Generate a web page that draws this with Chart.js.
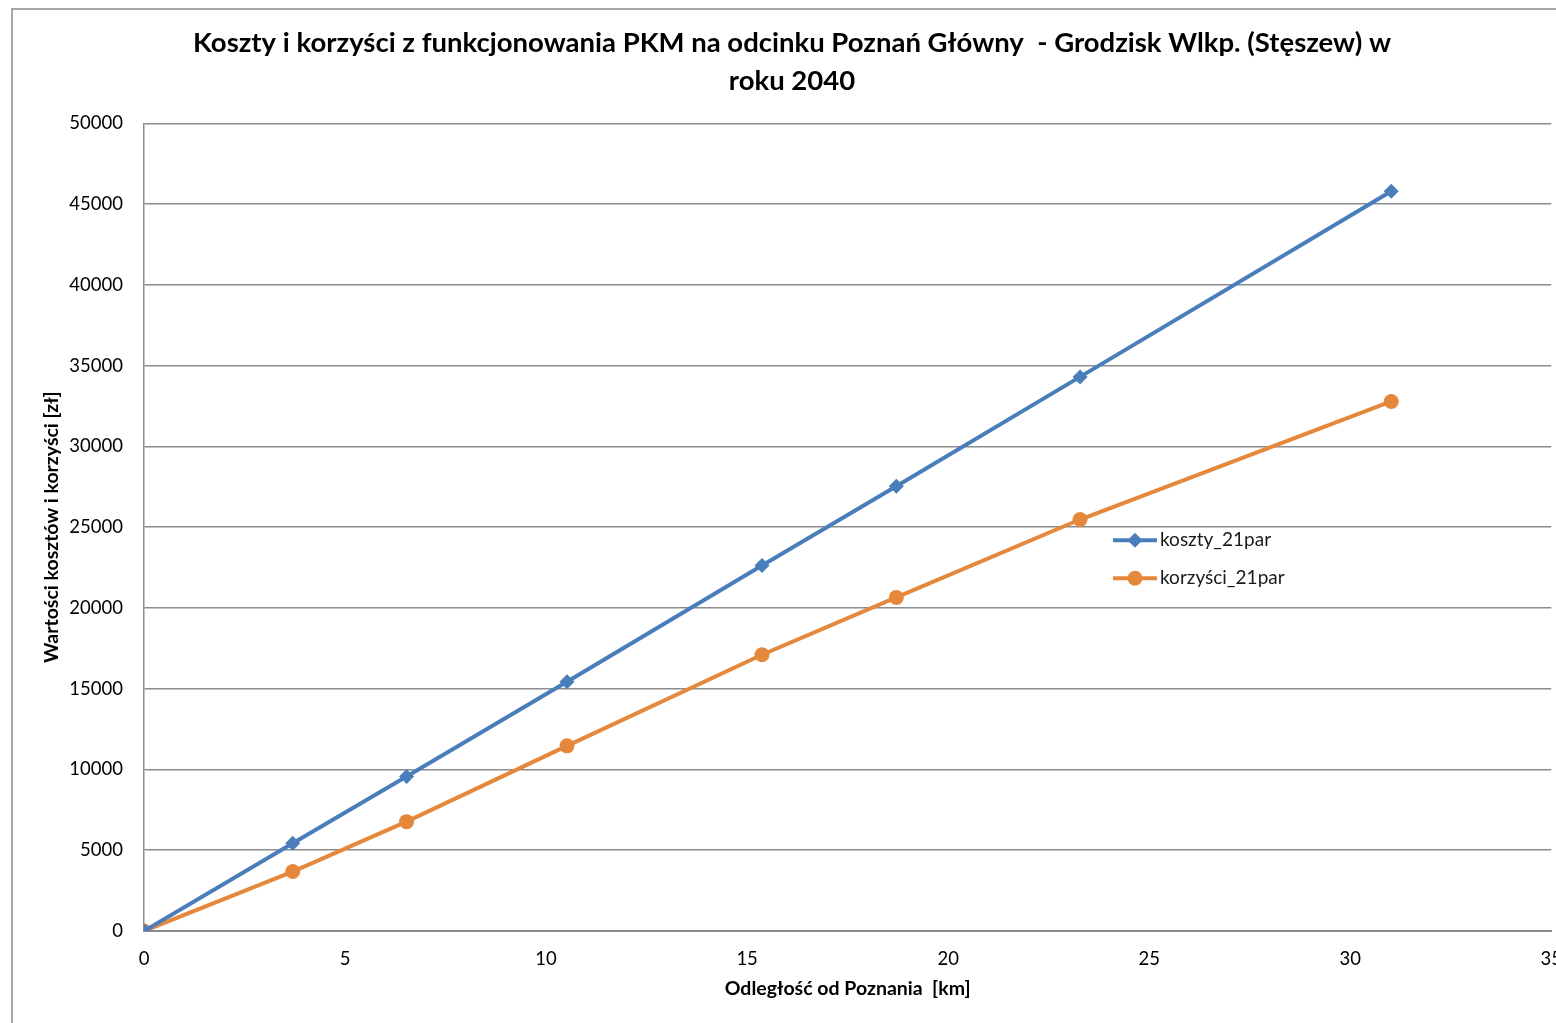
<!DOCTYPE html>
<html lang="pl">
<head>
    <meta charset="UTF-8">
    <title>Koszty i korzyści PKM</title>
    <script src="https://cdn.jsdelivr.net/npm/chart.js"></script>
    <style>
        html, body { margin: 0; padding: 0; background: #fff; overflow: hidden; }
        #frame {
            position: absolute; left: 11px; top: 8px;
            width: 1566px; height: 1040px;
            border: 2px solid #a6a6a6;
        }
        #myChart { display: block; }
    </style>
</head>
<body>
<div id="frame">
    <canvas id="myChart" width="1566" height="1040"></canvas>
</div>
<script>
    // odległość od Poznania [km]
    var distanceKm = [0, 3.7, 6.53, 10.52, 15.37, 18.71, 23.28, 31.02];
    var koszty = [0, 5430, 9560, 15430, 22630, 27530, 34300, 45790];
    var korzysci = [0, 3680, 6770, 11460, 17100, 20650, 25470, 32780];
    var seriesLabels = ['koszty_21par', 'korzyści_21par'];
    var titleLines = ['Koszty i korzyści z funkcjonowania PKM na odcinku Poznań Główny  - Grodzisk Wlkp. (Stęszew) w', 'roku 2040'];

    var blue = '#4a7ebb';
    var orange = '#e5883c';
    var font = 'Lato';

    function points(xs, ys) {
        return xs.map(function (x, i) { return { x: x, y: ys[i] }; });
    }

    // legenda wewnątrz obszaru wykresu
    var innerLegend = {
        id: 'innerLegend',
        afterDatasetsDraw: function (chart, args, opts) {
            var ctx = chart.ctx;
            var area = chart.chartArea;
            ctx.save();
            chart.data.datasets.forEach(function (ds, i) {
                var x0 = area.left + opts.left;
                var y = area.top + opts.top + i * opts.gap;
                var cx = x0 + opts.lineLen / 2;
                var r = ds.pointRadius;
                ctx.strokeStyle = ds.borderColor;
                ctx.lineWidth = ds.borderWidth;
                ctx.beginPath();
                ctx.moveTo(x0, y);
                ctx.lineTo(x0 + opts.lineLen, y);
                ctx.stroke();
                ctx.fillStyle = ds.backgroundColor;
                ctx.beginPath();
                if (ds.pointStyle === 'circle') {
                    ctx.arc(cx, y, r, 0, Math.PI * 2);
                } else {
                    ctx.moveTo(cx, y - r); ctx.lineTo(cx + r, y); ctx.lineTo(cx, y + r); ctx.lineTo(cx - r, y);
                    ctx.closePath();
                }
                ctx.fill();
                ctx.fillStyle = '#1a1a1a';
                ctx.font = '19px ' + font;
                ctx.textBaseline = 'middle';
                ctx.fillText(ds.label, x0 + opts.lineLen + 3, y);
            });
            ctx.restore();
        }
    };

    var ctx = document.getElementById('myChart');
    new Chart(ctx, {
        type: 'line',
        data: {
            datasets: [{
                label: seriesLabels[0],
                data: points(distanceKm, koszty),
                borderColor: blue,
                backgroundColor: blue,
                borderWidth: 4,
                pointStyle: 'rectRot',
                pointRadius: 7.5,
                pointBorderWidth: 0
            }, {
                label: seriesLabels[1],
                data: points(distanceKm, korzysci),
                borderColor: orange,
                backgroundColor: orange,
                borderWidth: 4,
                pointStyle: 'circle',
                pointRadius: 7.5,
                pointBorderWidth: 0
            }]
        },
        options: {
            responsive: false,
            animation: false,
            layout: { padding: { left: 14, right: 22, top: 0, bottom: 50 } },
            plugins: {
                legend: { display: false },
                tooltip: { enabled: false },
                title: {
                    display: true,
                    text: titleLines,
                    color: '#000',
                    font: { family: font, size: 27.5, weight: 'bold', lineHeight: 1.35 },
                    padding: { top: 15, bottom: 24 }
                },
                innerLegend: { left: 969, top: 417, gap: 38, lineLen: 44 }
            },
            scales: {
                x: {
                    type: 'linear',
                    min: 0,
                    max: 35,
                    afterFit: function (s) { s.height = 69; },
                    ticks: { stepSize: 5, padding: 17, color: '#000', font: { family: font, size: 18.5 } },
                    grid: { display: false, drawTicks: false },
                    border: { color: '#8c8c8c', width: 2 },
                    title: {
                        display: true,
                        text: 'Odległość od Poznania  [km]',
                        color: '#000',
                        padding: 0,
                        font: { family: font, size: 19.5, weight: 'bold', lineHeight: 1.2 }
                    }
                },
                y: {
                    min: 0,
                    max: 50000,
                    afterFit: function (s) { s.width = 117; },
                    ticks: {
                        stepSize: 5000, padding: 21, color: '#000',
                        font: { family: font, size: 18.5 },
                        callback: function (v) { return String(v); }
                    },
                    grid: { color: '#8c8c8c', lineWidth: 1.5, drawTicks: false },
                    border: { color: '#8c8c8c', width: 1.5 },
                    title: {
                        display: true,
                        text: 'Wartości kosztów i korzyści [zł]',
                        color: '#000',
                        padding: { top: 13, bottom: 0 },
                        font: { family: font, size: 19.5, weight: 'bold', lineHeight: 1.2 }
                    }
                }
            }
        },
        plugins: [innerLegend]
    });
</script>
</body>
</html>
